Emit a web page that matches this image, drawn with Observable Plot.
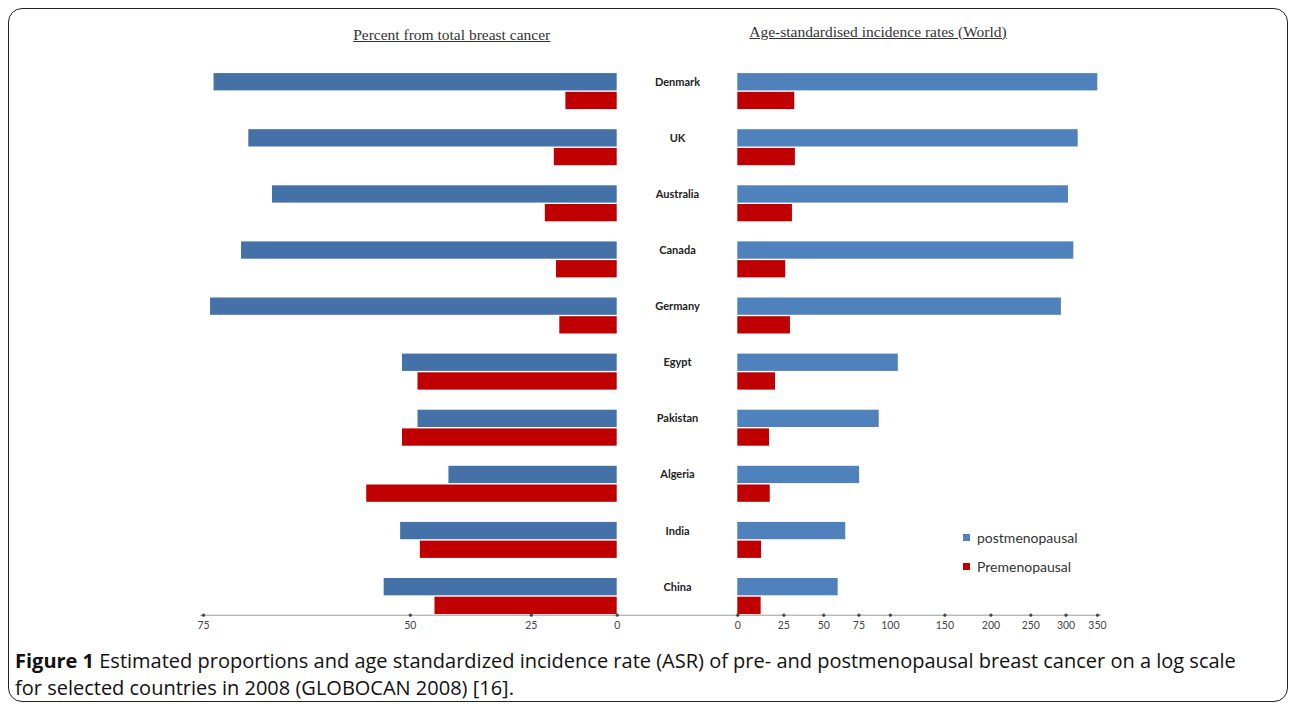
<!DOCTYPE html>
<html>
<head>
<meta charset="utf-8">
<script src="https://cdn.jsdelivr.net/npm/d3@7"></script>
<script src="https://cdn.jsdelivr.net/npm/@observablehq/plot@0.6"></script>
<style>
  html, body { margin: 0; padding: 0; background: #fff; }
  #wrap { position: relative; width: 1290px; height: 704px; overflow: hidden; background: #fff; }
  #frame { position: absolute; left: 8px; top: 8px; right: 2px; bottom: 2px; border: 1.3px solid #222; border-radius: 14px; box-sizing: border-box; }
  .layer { position: absolute; left: 0; top: 0; }
  .ttl { position: absolute; font-family: "Liberation Serif", "Times New Roman", serif; font-size: 15.5px; color: #333; text-decoration: underline; white-space: nowrap; transform: translate(-50%, -50%); }
  #legend { position: absolute; left: 963px; top: 523px; font-family: Lato, "Open Sans", sans-serif; font-size: 14px; color: #333; }
  #legend .row { display: flex; align-items: center; height: 29px; }
  #legend .sw { width: 7px; height: 7px; margin-right: 7px; }
  #caption { position: absolute; left: 15px; top: 647px; width: 1270px; white-space: nowrap; font-family: "Open Sans", sans-serif; font-size: 20px; line-height: 27px; color: #111; }
  #caption b { font-weight: 700; }
</style>
</head>
<body>
<div id="wrap">
  <div id="frame"></div>
  <div id="left" class="layer"></div>
  <div id="right" class="layer"></div>
  <div class="ttl" style="left:451.7px; top:35px;">Percent from total breast cancer</div>
  <div class="ttl" style="left:878px; top:31.5px;">Age-standardised incidence rates (World)</div>
  <div id="legend"></div>
  <div id="caption"><b>Figure 1</b> Estimated proportions and age standardized incidence rate (ASR) of pre- and postmenopausal breast cancer on a log scale<br>for selected countries in 2008 (GLOBOCAN 2008) [16].</div>
</div>
<script>
// ---- data ----
const countries = ["Denmark", "UK", "Australia", "Canada", "Germany", "Egypt", "Pakistan", "Algeria", "India", "China"];
const pctPost = [74.1, 70.9, 68.5, 71.6, 74.4, 51.3, 48.7, 43.1, 51.6, 54.2];
const pctPre  = [15.8, 19.0, 21.4, 18.4, 17.5, 48.7, 51.3, 56.8, 48.3, 45.7];
const asrPost = [350.5, 318.7, 303.7, 311.9, 293.1, 106.7, 90.8, 75.5, 65.3, 59.9];
const asrPre  = [31.5, 31.9, 30.1, 26.1, 28.9, 20.2, 16.8, 17.2, 12.4, 12.2];
const leftTicks = [75, 50, 25, 0];
const rightTicks = [0, 25, 50, 75, 100, 150, 200, 250, 300, 350];
const seriesNames = ["postmenopausal", "Premenopausal"];

// ---- layout / style ----
const W = 1290, H = 640;
const top0 = 53.7, bottom0 = 614.7;
const L1 = 203, L0 = 616.7;     // left panel: 75 .. 0
const R0 = 737.3, R1 = 1097;    // right panel: 0 .. 350
const colors = {leftPost: "#4472a8", rightPost: "#4f81bd", pre: "#c00000"};
const tickFont = "Lato, 'Open Sans', sans-serif";

// band keys: gap, post, pre per country
const keys = countries.flatMap(c => [c + "|gap", c + "|post", c + "|pre"]);

const leftRows = countries.flatMap((c, i) => [
  {country: c, series: "post", value: pctPost[i]},
  {country: c, series: "pre", value: pctPre[i]}
]);
const rightRows = countries.flatMap((c, i) => [
  {country: c, series: "post", value: asrPost[i]},
  {country: c, series: "pre", value: asrPre[i]}
]);

const yScale = {type: "band", domain: keys, padding: 0, round: false, axis: null};
const baseStyle = {background: "transparent", overflow: "visible"};
const tickText = {frameAnchor: "bottom", dy: 14, fontSize: 10.5, fontFamily: tickFont, fill: "#444"};

// Left panel: axis position proportional to log(100 - percent)
const left = Plot.plot({
  width: W, height: H,
  marginTop: top0, marginBottom: H - bottom0,
  marginLeft: L1, marginRight: W - L0,
  style: baseStyle,
  x: {type: "log", domain: [100 - 75, 100], axis: null},
  y: yScale,
  marks: [
    Plot.frame({anchor: "bottom", stroke: "#9a9a9a", strokeWidth: 1, insetLeft: -3, insetRight: -(R0 - L0)}),
    Plot.barX(leftRows, {
      x1: () => 100, x2: d => 100 - d.value,
      y: d => d.country + "|" + d.series,
      fill: d => d.series === "post" ? colors.leftPost : colors.pre,
      insetTop: 0.7, insetBottom: 0.7
    }),
    Plot.dot(leftTicks, {x: t => 100 - t, frameAnchor: "bottom", r: 1.6, fill: "#444"}),
    Plot.text(leftTicks, {x: t => 100 - t, text: t => String(t), ...tickText}),
    Plot.text(countries, {
      y: c => c + "|post", text: c => c, frameAnchor: "right", dx: (R0 - L0) / 2,
      textAnchor: "middle", fontWeight: "bold", fontSize: 11, fontFamily: tickFont, fill: "#222"
    })
  ]
});

// Right panel: axis position proportional to log(rate + 150)
const right = Plot.plot({
  width: W, height: H,
  marginTop: top0, marginBottom: H - bottom0,
  marginLeft: R0, marginRight: W - R1,
  style: baseStyle,
  x: {type: "log", domain: [0 + 150, 350 + 150], axis: null},
  y: yScale,
  marks: [
    Plot.frame({anchor: "bottom", stroke: "#9a9a9a", strokeWidth: 1, insetRight: -3}),
    Plot.barX(rightRows, {
      x1: () => 150, x2: d => d.value + 150,
      y: d => d.country + "|" + d.series,
      fill: d => d.series === "post" ? colors.rightPost : colors.pre,
      insetTop: 0.7, insetBottom: 0.7
    }),
    Plot.dot(rightTicks, {x: t => t + 150, frameAnchor: "bottom", r: 1.6, fill: "#444"}),
    Plot.text(rightTicks, {x: t => t + 150, text: t => String(t), ...tickText})
  ]
});

document.getElementById("left").appendChild(left);
document.getElementById("right").appendChild(right);

// legend
const leg = document.getElementById("legend");
[colors.rightPost, colors.pre].forEach((col, i) => {
  const row = document.createElement("div");
  row.className = "row";
  const sw = document.createElement("div");
  sw.className = "sw";
  sw.style.background = col;
  const tx = document.createElement("span");
  tx.textContent = seriesNames[i];
  row.appendChild(sw); row.appendChild(tx);
  leg.appendChild(row);
});
</script>
</body>
</html>
